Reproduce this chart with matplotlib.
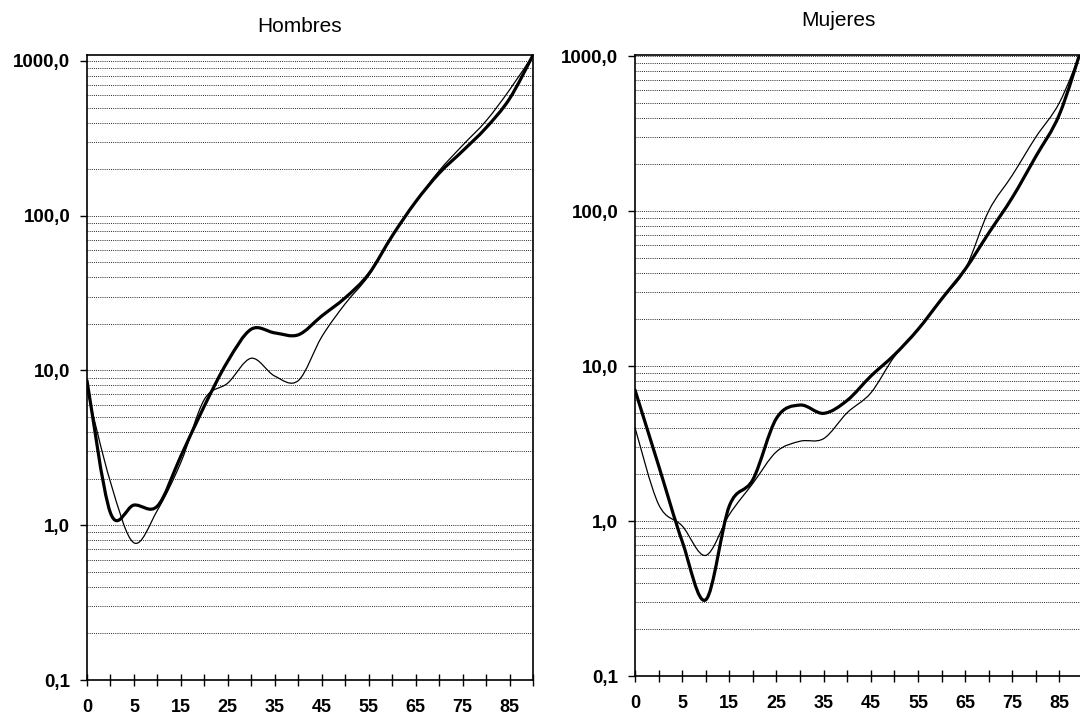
import numpy as np
import matplotlib
matplotlib.use("Agg")
import matplotlib.pyplot as plt
from matplotlib.path import Path
from matplotlib.patches import PathPatch
from matplotlib.ticker import FixedLocator, LogLocator, NullFormatter

plt.rcParams['font.family'] = ['Liberation Sans', 'DejaVu Sans']

# grupos de edad (eje x categórico)
edades = ["0", "1", "5", "10", "15", "20", "25", "30", "35", "40",
          "45", "50", "55", "60", "65", "70", "75", "80", "85", "90"]

# tasas por 1000
hombres_grueso = [8.6, 1.2, 1.35, 1.33, 2.8, 5.9, 11.5, 18.5, 17.5, 17.0,
                  22.5, 29.5, 42, 74, 123, 188, 262, 370, 570, 1090]
hombres_fino = [7.5, 1.9, 0.77, 1.25, 2.55, 6.5, 8.3, 12.0, 9.2, 8.6,
                16.5, 27, 41, 74, 123, 195, 285, 410, 650, 1090]
mujeres_grueso = [7.0, 2.28, 0.74, 0.31, 1.25, 1.85, 4.6, 5.6, 4.95, 6.0,
                  8.6, 11.8, 17.2, 27, 42, 72, 122, 225, 420, 1200]
mujeres_fino = [4.0, 1.28, 0.93, 0.60, 1.1, 1.75, 2.8, 3.27, 3.4, 5.0,
                6.7, 11.5, 17.2, 27, 42, 100, 170, 300, 500, 1150]

yticks = [0.1, 1, 10, 100, 1000]
ylabels = ["0,1", "1,0", "10,0", "100,0", "1000,0"]


def curva_suave(ax, valores, lw):
    # curva suavizada tipo Excel (Catmull-Rom en escala log)
    x = np.arange(len(valores), dtype=float)
    ly = np.log10(valores)
    n = len(x)
    verts = [(x[0], ly[0])]
    codes = [Path.MOVETO]
    for i in range(n - 1):
        x0, y0 = (x[i - 1], ly[i - 1]) if i > 0 else (x[i], ly[i])
        x1, y1 = x[i], ly[i]
        x2, y2 = x[i + 1], ly[i + 1]
        x3, y3 = (x[i + 2], ly[i + 2]) if i + 2 < n else (x2, y2)
        c1 = (x1 + (x2 - x0) / 6, y1 + (y2 - y0) / 6)
        c2 = (x2 - (x3 - x1) / 6, y2 - (y3 - y1) / 6)
        verts += [c1, c2, (x2, y2)]
        codes += [Path.CURVE4] * 3
    verts = np.array(verts)
    verts[:, 1] = 10 ** verts[:, 1]
    p = PathPatch(Path(verts, codes), facecolor='none', edgecolor='black',
                  lw=lw, capstyle='round', joinstyle='round', zorder=3)
    ax.add_patch(p)


def panel(ax, ytop, grueso, fino):
    ax.set_yscale('log')
    ax.set_ylim(0.1, ytop)
    ax.set_xlim(0, len(edades) - 1)
    curva_suave(ax, fino, 0.9)
    curva_suave(ax, grueso, 2.3)

    ax.yaxis.set_major_locator(FixedLocator(yticks))
    ax.set_yticklabels(ylabels, fontsize=13.5, fontweight='bold')
    ax.yaxis.set_minor_locator(LogLocator(base=10, subs=np.arange(2, 10)))
    ax.yaxis.set_minor_formatter(NullFormatter())
    ax.tick_params(axis='y', which='major', direction='out', length=5,
                   width=1, pad=7)
    ax.tick_params(axis='y', which='minor', length=0)
    ax.grid(True, which='both', axis='y', color='0.15', lw=0.7,
            ls=(0, (1, 1.2)))
    ax.grid(False, axis='x')

    ax.set_xticks(range(len(edades)))
    ax.set_xticklabels([e if i % 2 == 0 else "" for i, e in enumerate(edades)],
                       fontsize=13, fontweight='bold')
    ax.tick_params(axis='x', direction='inout', length=9, width=1, pad=9)
    for s in ax.spines.values():
        s.set_linewidth(1.2)
        s.set_color('black')


fig = plt.figure(figsize=(10.8, 7.15), dpi=100)
ax1 = fig.add_axes([87 / 1080, 35 / 715, 446 / 1080, 625 / 715])
ax2 = fig.add_axes([635 / 1080, 39 / 715, 448 / 1080, 621 / 715])

panel(ax1, 1093, hombres_grueso, hombres_fino)
panel(ax2, 1015, mujeres_grueso, mujeres_fino)

fig.text(300 / 1080, 1 - 27 / 715, "Hombres", ha='center', va='center',
         fontsize=15)
fig.text(838 / 1080, 1 - 20 / 715, "Mujeres", ha='center', va='center',
         fontsize=15)

fig.savefig("out.png", dpi=100)
